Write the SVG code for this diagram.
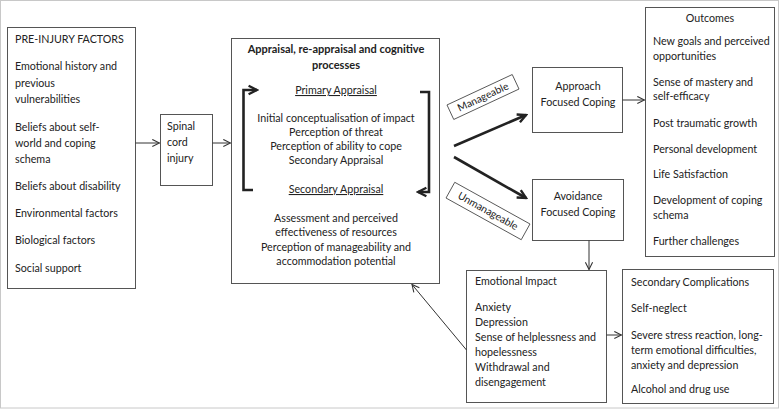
<svg xmlns="http://www.w3.org/2000/svg" width="779" height="410" viewBox="0 0 779 410">
<style>
text{font-family:Lato,"Liberation Sans",Arial,sans-serif;font-size:10.7px;fill:#222}
.box{fill:#fff;stroke:#555;stroke-width:1}
.c{text-anchor:middle}
.b{font-weight:bold;font-size:11px}
.u{text-decoration:underline}
.thin{stroke:#333;stroke-width:1;fill:none}
.thick{stroke:#222;stroke-width:2.6;fill:none}
.lbl{font-size:10.3px}
</style>
<defs>
<marker id="ah" viewBox="0 0 10 10" refX="9" refY="5" markerWidth="9" markerHeight="9" markerUnits="userSpaceOnUse" orient="auto"><path d="M1,1 L9,5 L1,9" fill="none" stroke="#333" stroke-width="1.2"/></marker>
<marker id="ahk" viewBox="0 0 10 10" refX="8.5" refY="5" markerWidth="12" markerHeight="12" markerUnits="userSpaceOnUse" orient="auto"><path d="M1.5,1.5 L8.5,5 L1.5,8.5" fill="none" stroke="#222" stroke-width="2"/></marker>
</defs>
<rect x="0.5" y="0.5" width="778" height="407.5" fill="#fff" stroke="#c8c8c8" stroke-width="1"/>

<g id="preinjury">
<rect class="box" x="7.5" y="27.5" width="128" height="261"/>
<text x="15" y="43">PRE-INJURY FACTORS</text>
<text x="15" y="70">Emotional history and</text>
<text x="15" y="87">previous</text>
<text x="15" y="103">vulnerabilities</text>
<text x="15" y="131">Beliefs about self-</text>
<text x="15" y="147">world and coping</text>
<text x="15" y="163">schema</text>
<text x="15" y="190">Beliefs about disability</text>
<text x="15" y="217">Environmental factors</text>
<text x="15" y="244">Biological factors</text>
<text x="15" y="272">Social support</text>
</g>

<g id="spinal">
<rect class="box" x="160.5" y="114.5" width="52" height="71"/>
<text x="167" y="130">Spinal</text>
<text x="167" y="146">cord</text>
<text x="167" y="162">injury</text>
</g>

<g id="appraisal">
<rect class="box" x="231.5" y="38.5" width="208" height="245"/>
<text class="c b" x="336" y="53">Appraisal, re-appraisal and cognitive</text>
<text class="c b" x="336" y="69">processes</text>
<text class="c u" x="336" y="94">Primary Appraisal</text>
<text class="c" x="336" y="122">Initial conceptualisation of impact</text>
<text class="c" x="336" y="136">Perception of threat</text>
<text class="c" x="336" y="150">Perception of ability to cope</text>
<text class="c" x="336" y="164">Secondary Appraisal</text>
<text class="c u" x="336" y="193">Secondary Appraisal</text>
<text class="c" x="336" y="222">Assessment and perceived</text>
<text class="c" x="336" y="236">effectiveness of resources</text>
<text class="c" x="336" y="251">Perception of manageability and</text>
<text class="c" x="336" y="265">accommodation potential</text>
</g>

<g id="manageable">
<rect x="447" y="89" width="72" height="16" fill="#fff" stroke="#444" stroke-width="0.8" transform="rotate(-25 483 97)"/>
<text class="c lbl" x="483" y="100.5" transform="rotate(-25 483 97)">Manageable</text>
</g>

<g id="unmanageable">
<rect x="445" y="202" width="86" height="18" fill="#fff" stroke="#444" stroke-width="0.8" transform="rotate(29 488 211)"/>
<text class="c lbl" x="488" y="214.5" transform="rotate(29 488 211)">Unmanageable</text>
</g>

<g id="approach">
<rect class="box" x="532.5" y="67.5" width="90" height="65"/>
<text class="c" x="578" y="90">Approach</text>
<text class="c" x="578" y="106">Focused Coping</text>
</g>

<g id="avoidance">
<rect class="box" x="532.5" y="179.5" width="91" height="61"/>
<text class="c" x="578" y="200">Avoidance</text>
<text class="c" x="578" y="216">Focused Coping</text>
</g>

<g id="outcomes">
<rect class="box" x="645.5" y="7.5" width="129" height="249"/>
<text class="c" x="710" y="22">Outcomes</text>
<text x="653" y="45">New goals and perceived</text>
<text x="653" y="60">opportunities</text>
<text x="653" y="86">Sense of mastery and</text>
<text x="653" y="100">self-efficacy</text>
<text x="653" y="127">Post traumatic growth</text>
<text x="653" y="153">Personal development</text>
<text x="653" y="178">Life Satisfaction</text>
<text x="653" y="204">Development of coping</text>
<text x="653" y="219">schema</text>
<text x="653" y="245">Further challenges</text>
</g>

<g id="emotional">
<rect class="box" x="466.5" y="270.5" width="140" height="132"/>
<text x="475" y="285">Emotional Impact</text>
<text x="475" y="311">Anxiety</text>
<text x="475" y="326">Depression</text>
<text x="475" y="341">Sense of helplessness and</text>
<text x="475" y="356">hopelessness</text>
<text x="475" y="371">Withdrawal and</text>
<text x="475" y="386">disengagement</text>
</g>

<g id="secondary">
<rect class="box" x="622.5" y="269.5" width="151" height="134"/>
<text x="631" y="286">Secondary Complications</text>
<text x="631" y="312">Self-neglect</text>
<text x="631" y="339">Severe stress reaction, long-</text>
<text x="631" y="354">term emotional difficulties,</text>
<text x="631" y="369">anxiety and depression</text>
<text x="631" y="393">Alcohol and drug use</text>
</g>

<g id="connectors">
<line class="thin" x1="135.5" y1="143" x2="159.5" y2="143" marker-end="url(#ah)"/>
<line class="thin" x1="212.5" y1="143" x2="230.5" y2="143" marker-end="url(#ah)"/>
<path class="thick" d="M253,190 H243.5 V90 H257" marker-end="url(#ahk)"/>
<path class="thick" d="M420,92 H429 V192 H418" marker-end="url(#ahk)"/>
<line class="thick" x1="454" y1="146" x2="526" y2="115" marker-end="url(#ahk)"/>
<line class="thick" x1="454" y1="157" x2="526" y2="198" marker-end="url(#ahk)"/>
<line class="thin" x1="622.5" y1="100" x2="644.5" y2="100" marker-end="url(#ah)"/>
<line class="thin" x1="589" y1="240.5" x2="589" y2="269.5" marker-end="url(#ah)"/>
<line class="thin" x1="606.5" y1="335" x2="621.5" y2="335" marker-end="url(#ah)"/>
<line class="thin" x1="466.5" y1="350" x2="412" y2="284.5" marker-end="url(#ah)"/>
</g>
</svg>
